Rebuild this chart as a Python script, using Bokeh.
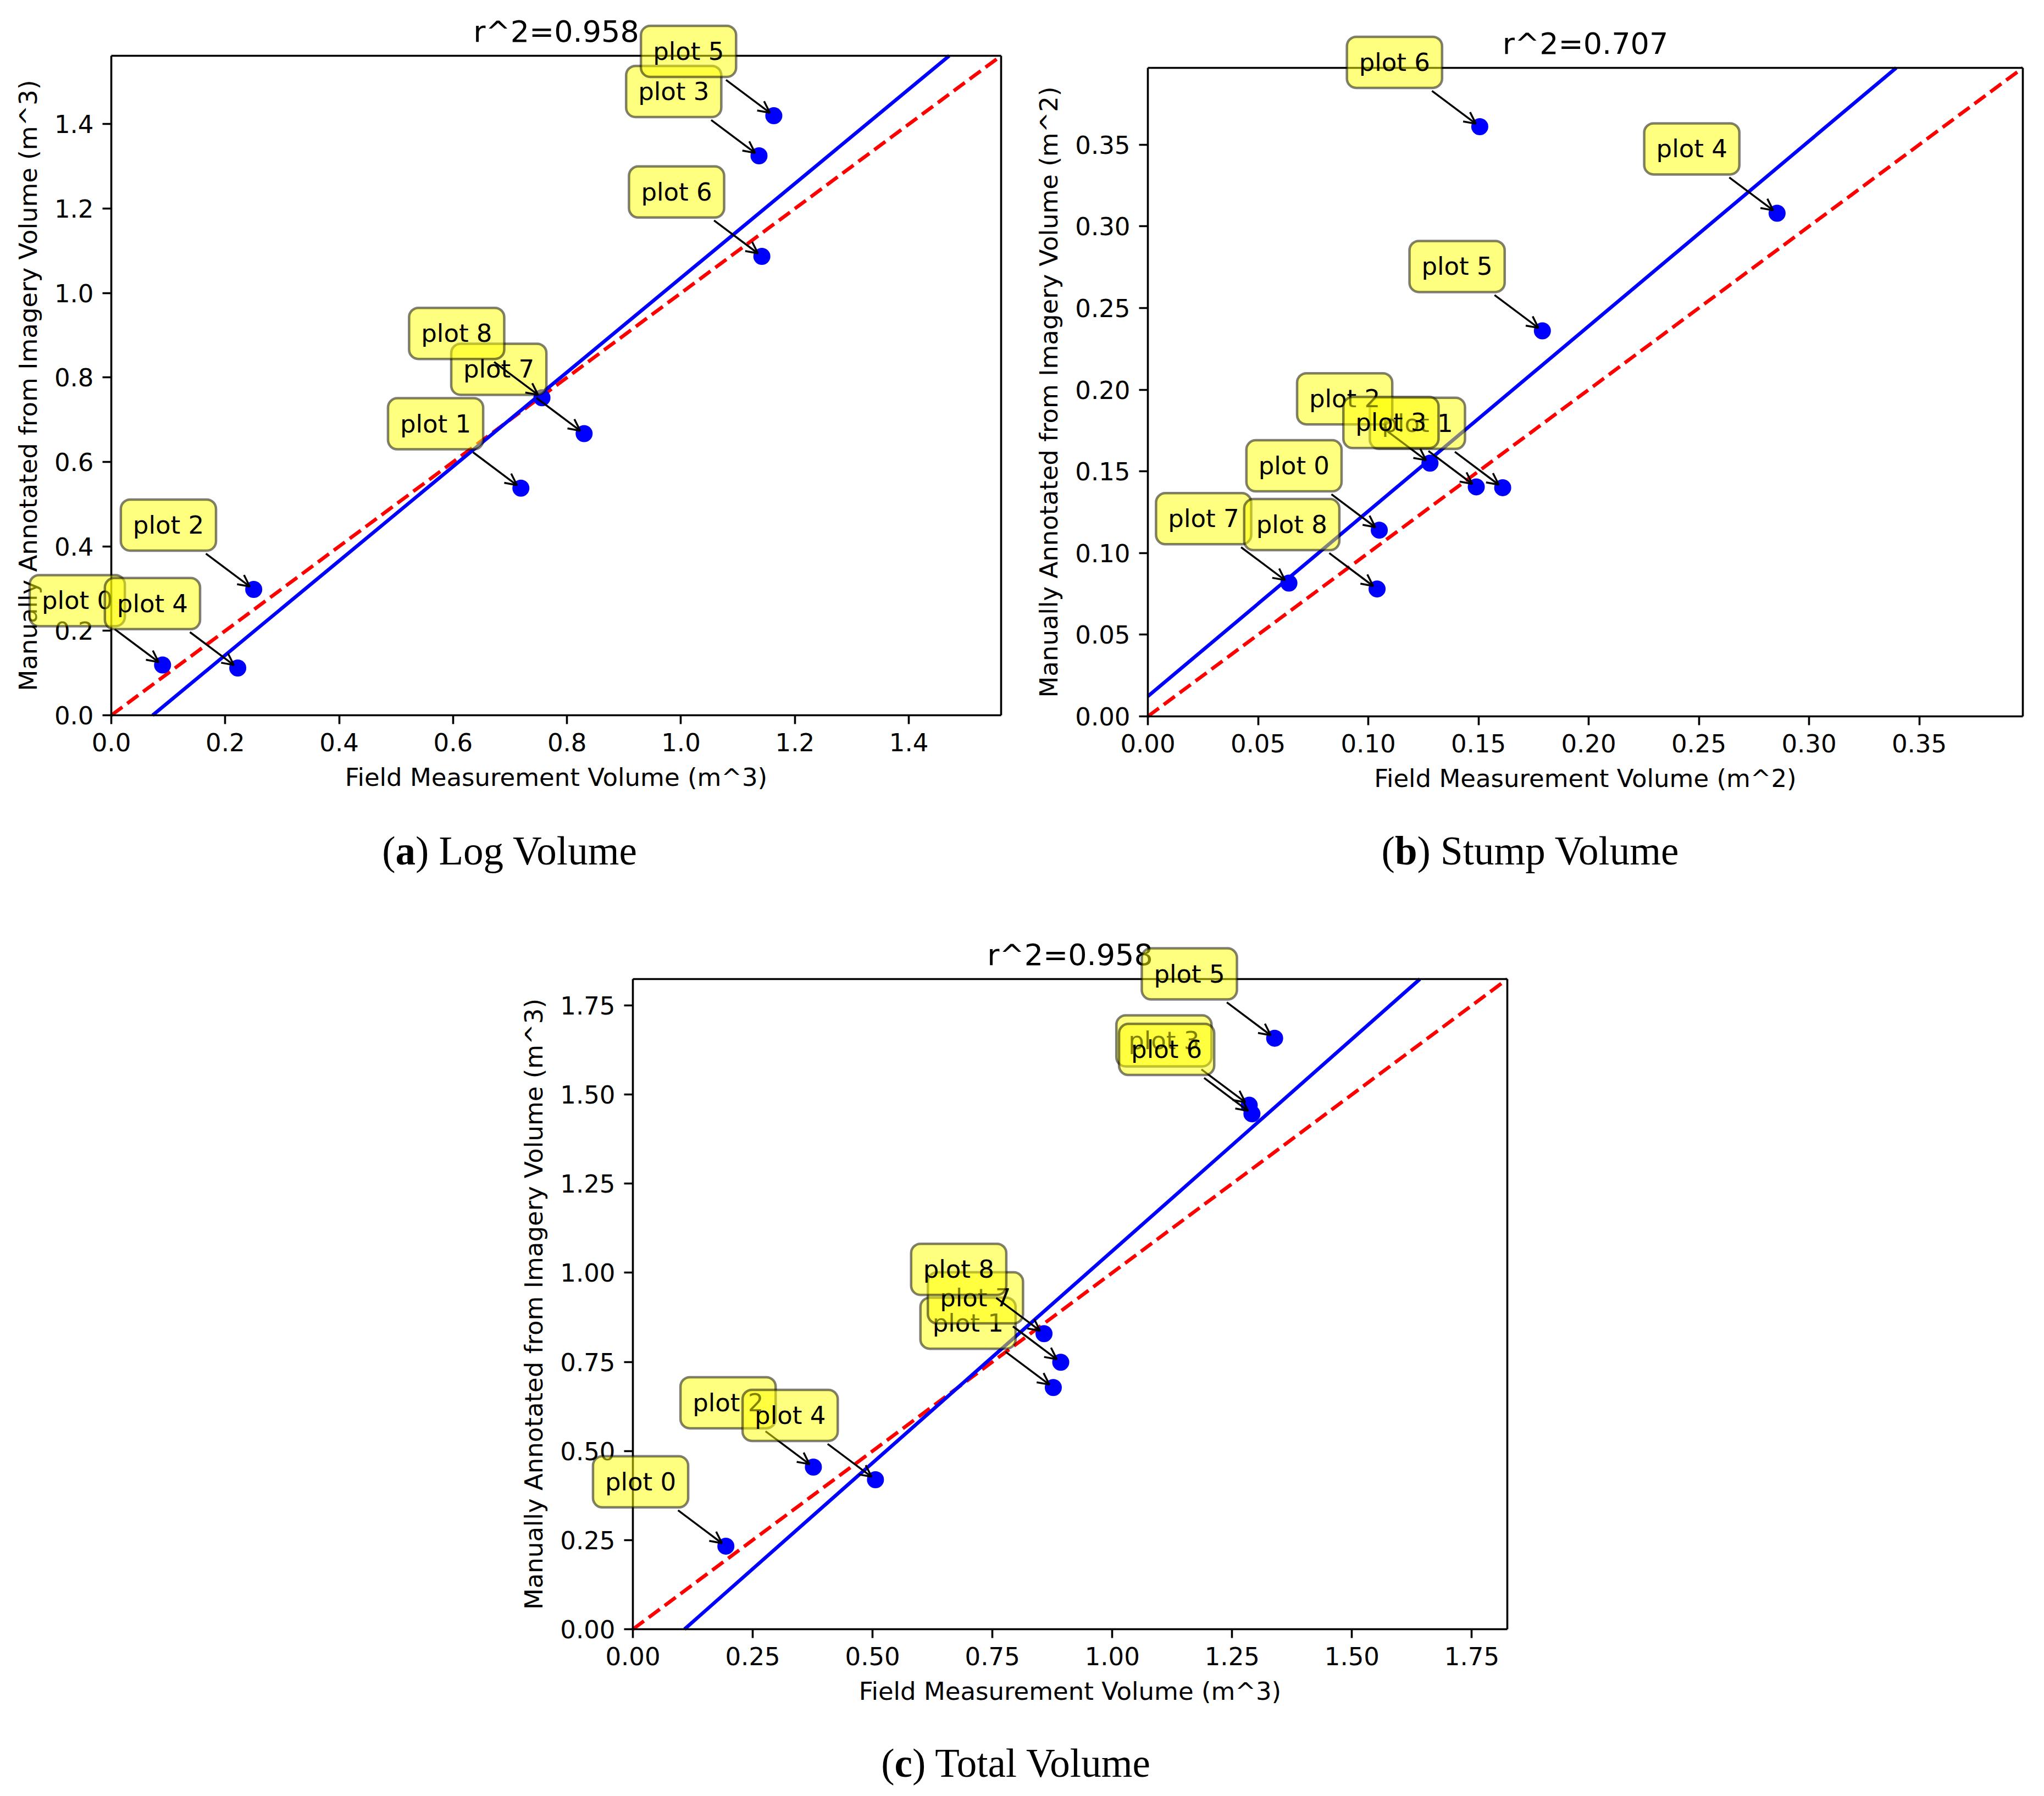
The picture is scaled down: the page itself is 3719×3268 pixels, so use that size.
import math
from bokeh.plotting import figure
from bokeh.models import (Label, Arrow, OpenHead, Div, Spacer, FixedTicker,
                          PrintfTickFormatter, LinearAxis, Range1d)
from bokeh.layouts import row, column
from bokeh.embed import file_html
from bokeh.resources import INLINE

# ---------------- data ----------------
point_names = ["plot 0", "plot 1", "plot 2", "plot 3", "plot 4",
               "plot 5", "plot 6", "plot 7", "plot 8"]

log_field = [0.090, 0.719, 0.250, 1.137, 0.222, 1.163, 1.142, 0.830, 0.756]
log_annot = [0.119, 0.538, 0.298, 1.325, 0.112, 1.420, 1.087, 0.667, 0.752]

stump_field = [0.105, 0.161, 0.128, 0.149, 0.2855, 0.179, 0.1506, 0.064, 0.104]
stump_annot = [0.114, 0.140, 0.155, 0.1405, 0.308, 0.236, 0.361, 0.0816, 0.078]

total_field = [0.194, 0.877, 0.3765, 1.2857, 0.506, 1.3387, 1.2913, 0.8925, 0.8576]
total_annot = [0.233, 0.678, 0.4548, 1.470, 0.4194, 1.658, 1.446, 0.749, 0.829]

# fitted regression lines (slope, intercept)
log_fit = [1.117, -0.081]
stump_fit = [1.133, 0.0123]
total_fit = [1.189, -0.128]

# axis limits (both axes)
log_lim = 1.562
stump_lim = 0.397
total_lim = 1.824

log_ticks = [0.0, 0.2, 0.4, 0.6, 0.8, 1.0, 1.2, 1.4]
log_tick_labels = ["0.0", "0.2", "0.4", "0.6", "0.8", "1.0", "1.2", "1.4"]
stump_ticks = [0.0, 0.05, 0.10, 0.15, 0.20, 0.25, 0.30, 0.35]
stump_tick_labels = ["0.00", "0.05", "0.10", "0.15", "0.20", "0.25", "0.30", "0.35"]
total_ticks = [0.0, 0.25, 0.50, 0.75, 1.00, 1.25, 1.50, 1.75]
total_tick_labels = ["0.00", "0.25", "0.50", "0.75", "1.00", "1.25", "1.50", "1.75"]

titles = ["r^2=0.958", "r^2=0.707", "r^2=0.958"]
x_labels = ["Field Measurement Volume (m^3)", "Field Measurement Volume (m^2)",
            "Field Measurement Volume (m^3)"]
y_labels = ["Manually Annotated from Imagery Volume (m^3)",
            "Manually Annotated from Imagery Volume (m^2)",
            "Manually Annotated from Imagery Volume (m^3)"]
caption_letters = ["a", "b", "c"]
caption_texts = ["Log Volume", "Stump Volume", "Total Volume"]

# ---------------- style ----------------
FONT = "DejaVu Sans"
OFF = 90.6      # annotation text offset (px)
PAD_X = 22      # box padding (px)
PAD_Y = 20
TXT_W = 122.0   # approx text width (px)
TXT_H = 46.0    # approx text height (px)
SHRINK = 9.0
SPINE_W = 3.6


def style_axis(ax):
    ax.axis_line_width = SPINE_W
    ax.axis_line_color = "black"
    ax.minor_tick_line_color = None


def make_panel(fx, fy, lim, ticks, tick_labels, fmt, fit, title, xlabel, ylabel,
               W, H, bx, by, bw, bh):
    # the frame fills the whole figure; the axes box [0, lim] x [0, lim]
    # sits at (bx, by) with size bw x bh (pixels from the figure's top-left)
    kx = lim / bw
    ky = lim / bh
    xr = Range1d(-bx * kx, (W - bx) * kx)
    yr = Range1d(-(H - by - bh) * ky, lim + by * ky)
    p = figure(frame_width=W, frame_height=H, x_range=xr, y_range=yr,
               output_backend="svg", toolbar_location=None,
               min_border=0, min_border_left=0, min_border_right=0,
               min_border_top=0, min_border_bottom=0,
               background_fill_color="white", border_fill_color="white")
    p.title.visible = False
    p.grid.visible = False
    p.outline_line_color = None

    for ax, lab in ((p.xaxis[0], xlabel), (p.yaxis[0], ylabel)):
        style_axis(ax)
        ax.fixed_location = 0
        ax.bounds = (0, lim)
        ax.ticker = FixedTicker(ticks=ticks)
        ax.formatter = PrintfTickFormatter(format=fmt)
        ax.major_label_overrides = {t: s for t, s in zip(ticks, tick_labels)}
        ax.axis_label = lab
        ax.axis_label_text_font = FONT
        ax.axis_label_text_font_size = "45px"
        ax.axis_label_text_font_style = "normal"
        ax.axis_label_text_color = "black"
        ax.axis_label_standoff = 18
        ax.major_label_text_font = FONT
        ax.major_label_text_font_size = "45px"
        ax.major_label_text_color = "black"
        ax.major_label_standoff = 16
        ax.major_tick_out = 16
        ax.major_tick_in = 0
        ax.major_tick_line_width = SPINE_W
        ax.major_tick_line_color = "black"

    # top and right spines
    for side in ("above", "right"):
        sp = LinearAxis(fixed_location=lim, bounds=(0, lim), ticker=FixedTicker(ticks=[]),
                        major_tick_line_color=None, major_label_text_alpha=0)
        style_axis(sp)
        p.add_layout(sp, side)

    # title (centre of text ~44 px above the axes box)
    p.add_layout(Label(x=lim / 2, y=lim, y_offset=44, text=title, text_align="center",
                       text_baseline="middle", text_font=FONT, text_font_size="54px",
                       text_color="black"))

    # red dashed 1:1 line
    p.line([0, lim], [0, lim], line_color="#ff0000", line_width=6.5, line_dash="25 11")
    # blue fit line, limited to the axes box
    slope, icpt = fit
    x0 = max(0.0, (0.0 - icpt) / slope)
    x1 = min(lim, (lim - icpt) / slope)
    p.line([x0, x1], [slope * x0 + icpt, slope * x1 + icpt], line_color="#0000ff",
           line_width=6.5)
    # points
    p.scatter(fx, fy, size=31, fill_color="#0000ff", line_color=None)

    # annotations
    cx = -(OFF + TXT_W / 2)
    cy = OFF + TXT_H / 2
    dlen = math.hypot(cx, cy)
    ux, uy = -cx / dlen, -cy / dlen
    t = min((TXT_W / 2 + PAD_X) / abs(cx), (TXT_H / 2 + PAD_Y) / cy)
    s_off = t * dlen + SHRINK
    sx, sy = cx + s_off * ux, cy + s_off * uy
    ex, ey = -SHRINK * ux, -SHRINK * uy
    for name, x, y in zip(point_names, fx, fy):
        p.add_layout(Arrow(x_start=x + sx * kx, y_start=y + sy * ky,
                           x_end=x + ex * kx, y_end=y + ey * ky,
                           line_color="black", line_width=3.5,
                           end=OpenHead(size=21, line_width=3.5, line_color="black")))
        p.add_layout(Label(x=x, y=y, x_offset=-OFF + PAD_X, y_offset=OFF - PAD_Y,
                           text=name, text_align="right", text_baseline="bottom",
                           text_font=FONT, text_font_size="45px", text_color="black",
                           background_fill_color="#ffff00", background_fill_alpha=0.5,
                           border_line_color="black", border_line_alpha=0.5,
                           border_line_width=4.5,
                           padding=dict(x=PAD_X, y=PAD_Y), border_radius=17))
    return p


# top row: y 0..1499 ; panel a figure x 0..1850, panel b figure x 1850..3710
pa = make_panel(log_field, log_annot, log_lim, log_ticks, log_tick_labels, "%.1f",
                log_fit, titles[0], x_labels[0], y_labels[0],
                1850, 1499, 202, 101, 1619, 1200)
pb = make_panel(stump_field, stump_annot, stump_lim, stump_ticks, stump_tick_labels, "%.2f",
                stump_fit, titles[1], x_labels[1], y_labels[1],
                1860, 1499, 238, 123, 1592, 1180)
# bottom: y 1599..3159, full width
pc = make_panel(total_field, total_annot, total_lim, total_ticks, total_tick_labels, "%.2f",
                total_fit, titles[2], x_labels[2], y_labels[2],
                3710, 1560, 1151, 182, 1591, 1183)


def caption(letter, text, w):
    html = ('<div style="width:%dpx;text-align:center;font-family:\'Liberation Serif\';'
            'font-size:73px;line-height:100px;color:black;white-space:nowrap;">'
            '(<b>%s</b>) %s</div>' % (w, letter, text))
    return Div(text=html, width=w, height=100, margin=0)


cap_a = caption(caption_letters[0], caption_texts[0], 1854)
cap_b = caption(caption_letters[1], caption_texts[1], 1000)
cap_c = caption(caption_letters[2], caption_texts[2], 1000)

layout = column(
    row(pa, pb),
    row(cap_a, Spacer(width=430, height=100, margin=0), cap_b),
    pc,
    row(Spacer(width=1348, height=10, margin=0), cap_c),
)

open("out.html", "w").write(file_html(layout, INLINE))
